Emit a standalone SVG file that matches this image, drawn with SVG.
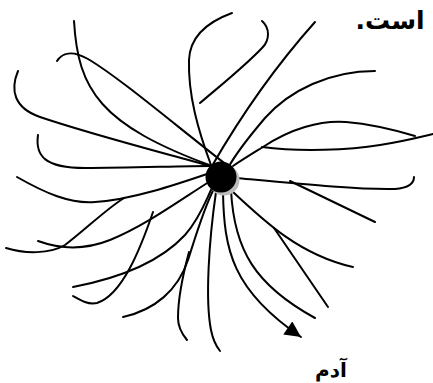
<svg xmlns="http://www.w3.org/2000/svg" width="433" height="383" viewBox="0 0 433 383">
<style>
.ray{fill:none;stroke:#000;stroke-width:2;stroke-linecap:round}
.lbl{font-family:"DejaVu Sans",sans-serif;font-weight:bold;fill:#000}
</style>
<defs>
<marker id="arr" viewBox="0 0 10 10" refX="10" refY="5" markerWidth="17" markerHeight="16" markerUnits="userSpaceOnUse" orient="auto">
<path d="M0,0 L10,5 L0,10 z" fill="#000"/>
</marker>
</defs>
<rect width="433" height="383" fill="#fff"/>
<g id="connectors">
<path class="ray" d="M74,21 C78,90 100,125 212,166"/>
<path class="ray" d="M57,61 C62,53 72,50 88,59 C120,78 175,125 228,166"/>
<path class="ray" d="M18,71 C10,90 14,108 40,117 C90,134 160,152 210,166"/>
<path class="ray" d="M38,135 C35,156 45,168 85,168 C130,168 180,166 210,166"/>
<path class="ray" d="M17,177 C45,193 70,204 95,202 C130,200 175,185 210,173"/>
<path class="ray" d="M6,248 C25,254 50,254 65,245 C85,230 105,210 124,198"/>
<path class="ray" d="M38,241 C60,249 85,250 110,240 C145,226 180,200 212,180"/>
<path class="ray" d="M153,212 C140,250 122,295 97,303 C88,305 80,300 73,296"/>
<path class="ray" d="M73,287 C120,278 160,262 185,235 C200,218 206,200 212,188"/>
<path class="ray" d="M123,317 C155,310 178,290 188,260 C196,235 205,205 214,189"/>
<path class="ray" d="M189,252 C182,278 178,300 178,318 C178,328 182,334 187,340"/>
<path class="ray" d="M216,192 C209,240 205,300 211,330 C213,340 216,346 220,351"/>
<path class="ray" d="M223,192 C224,250 232,290 301,337" marker-end="url(#arr)"/>
<path class="ray" d="M231,190 C234,250 255,285 315,318"/>
<path class="ray" d="M231,190 C265,222 300,255 353,267"/>
<path class="ray" d="M274,228 L328,307"/>
<path class="ray" d="M290,181 L375,222"/>
<path class="ray" d="M236,178 C300,184 360,190 395,189 C408,188 414,184 414,177"/>
<path class="ray" d="M233,166 C245,158 255,152 263,147 C290,129 320,120 346,122 C370,124 395,130 415,136"/>
<path class="ray" d="M262,147 C300,152 350,150 380,145 C405,141 420,137 433,134"/>
<path class="ray" d="M232,13 C210,21 190,35 189,60 C188,95 198,130 211,165"/>
<path class="ray" d="M262,21 C270,28 270,40 262,48 C245,66 220,86 200,103"/>
<path class="ray" d="M315,22 C290,50 250,100 212,166"/>
<path class="ray" d="M375,71 C330,71 290,90 265,118 C248,138 235,155 228,168"/>
</g>
<g id="center">
<circle cx="224" cy="180" r="15.5" fill="#bbb"/>
<circle cx="221" cy="177" r="15.5" fill="#000"/>
</g>
<g id="label-ast">
<text class="lbl" x="390" y="29" font-size="25" text-anchor="middle" direction="rtl">است.</text>
</g>
<g id="label-adam">
<text class="lbl" x="331" y="377" font-size="20" text-anchor="middle" direction="rtl">آدم</text>
</g>
</svg>
